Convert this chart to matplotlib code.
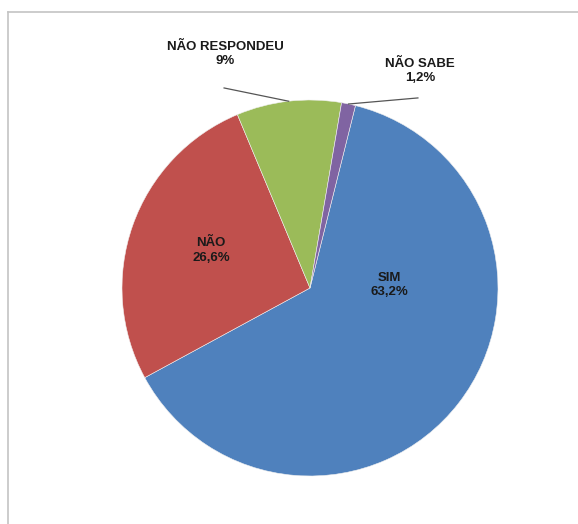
import numpy as np
import matplotlib
matplotlib.use("Agg")
import matplotlib.pyplot as plt
from matplotlib.lines import Line2D

plt.rcParams['font.family'] = ['Liberation Sans', 'DejaVu Sans']

# Survey answers
categories = ['SIM', 'NÃO', 'NÃO RESPONDEU', 'NÃO SABE']
shares = [63.2, 26.6, 9, 1.2]
colors = ['#4F81BD', '#C0504D', '#9BBB59', '#8064A2']

# label placement (pie radius = 1)
label_pos = [(0.42, 0.016), (-0.527, 0.199), (-0.452, 1.245), (0.585, 1.154)]
leader_start = {2: (-0.457, 1.064), 3: (0.574, 1.011)}

W, H = 578, 524
cx, cy, r = 310, 288, 188

fig = plt.figure(figsize=(W / 100, H / 100), dpi=100)
ax = fig.add_axes([0, 0, 1, 1])

wedges, _ = ax.pie(shares, colors=colors, startangle=76, counterclock=False,
                   radius=1, wedgeprops=dict(linewidth=0.4, edgecolor='#f0f0f0'))
ax.set_xlim(-cx / r, (W - cx) / r)
ax.set_ylim((cy - H) / r, cy / r)
ax.set_aspect('auto')
ax.axis('off')


def fmt(v):
    s = ('%g' % v).replace('.', ',')
    return s + '%'


for i, (name, val) in enumerate(zip(categories, shares)):
    x, y = label_pos[i]
    ax.text(x, y, name + '\n' + fmt(val), ha='center', va='center',
            fontsize=9.5, fontweight='bold', color='#1a1a1a', linespacing=1.25)
    if i in leader_start:
        w = wedges[i]
        mid = np.deg2rad((w.theta1 + w.theta2) / 2)
        sx, sy = leader_start[i]
        ax.plot([sx, np.cos(mid)], [sy, np.sin(mid)], color='#555555', lw=0.9)

# chart area border
fig.add_artist(Line2D([8 / W, 1], [1 - 12 / H, 1 - 12 / H], transform=fig.transFigure,
                      color='#c4c4c4', lw=1.2))
fig.add_artist(Line2D([8 / W, 8 / W], [0, 1 - 12 / H], transform=fig.transFigure,
                      color='#c4c4c4', lw=1.2))

fig.savefig('out.png', dpi=100, facecolor='white')
